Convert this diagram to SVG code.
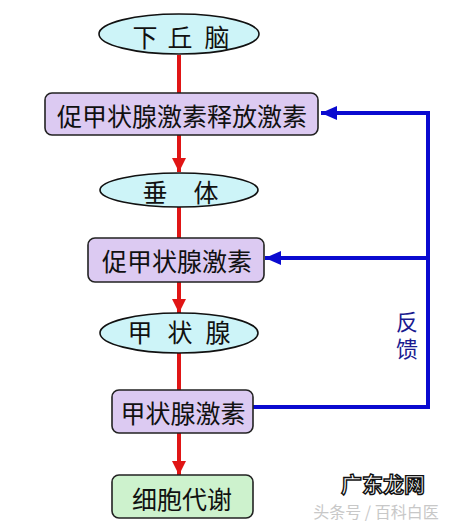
<svg xmlns="http://www.w3.org/2000/svg" width="468" height="526" viewBox="0 0 468 526">
<style>
.ell{fill:#cdf4f8;stroke:#111;stroke-width:1.6}
.box{fill:#dccaf2;stroke:#222;stroke-width:1.6}
.gbox{fill:#cdf2cd;stroke:#222;stroke-width:1.6}
.t{font-family:"Noto Sans CJK SC","Noto Sans CJK TC",sans-serif;font-size:25px;fill:#111;text-anchor:middle}
.red{stroke:#e01515;stroke-width:4;fill:none}
.blue{stroke:#0a0ad0;stroke-width:4;fill:none}
.fb{font-family:"Noto Sans CJK SC",sans-serif;font-size:22px;fill:#1a1a90}
.wm{font-family:"Noto Sans CJK SC",sans-serif;font-size:16px;fill:#c8c8c8;text-anchor:middle}
.wm2{font-family:"Noto Sans CJK SC",sans-serif;font-size:21px;font-weight:bold;fill:#fff;stroke:#111;stroke-width:1.4;text-anchor:middle}
</style>
<defs>
<marker id="ar" markerUnits="userSpaceOnUse" markerWidth="16" markerHeight="16" refX="14" refY="8" orient="auto">
<path d="M0,1 L14,8 L0,15 Z" fill="#e01515"/>
</marker>
<marker id="ab" markerUnits="userSpaceOnUse" markerWidth="18" markerHeight="16" refX="16" refY="8" orient="auto">
<path d="M0,1 L16,8 L0,15 Z" fill="#0a0ad0"/>
</marker>
</defs>
<g id="connectors">
<line class="red" x1="179" y1="55" x2="179" y2="93"/>
<line class="red" x1="179" y1="135" x2="179" y2="172" marker-end="url(#ar)"/>
<line class="red" x1="179" y1="207" x2="179" y2="238"/>
<line class="red" x1="179" y1="282" x2="179" y2="313" marker-end="url(#ar)"/>
<line class="red" x1="179" y1="353" x2="179" y2="390"/>
<line class="red" x1="179" y1="433" x2="179" y2="475" marker-end="url(#ar)"/>
<polyline class="blue" points="253,407 428,407 428,113 321,113" marker-end="url(#ab)"/>
<line class="blue" x1="428" y1="258" x2="265" y2="258" marker-end="url(#ab)"/>
</g>
<g id="n1">
<ellipse class="ell" cx="179" cy="34" rx="80" ry="20"/>
<text class="t" x="145 162 180 198 217" y="47">下 丘 脑</text>
</g>
<g id="n2">
<rect class="box" x="45" y="93" width="273" height="42" rx="7"/>
<text class="t" x="182" y="126">促甲状腺激素释放激素</text>
</g>
<g id="n3">
<ellipse class="ell" cx="179" cy="190" rx="79" ry="17"/>
<text class="t" x="155 180 206" y="202">垂 体</text>
</g>
<g id="n4">
<rect class="box" x="88" y="238" width="176" height="44" rx="7"/>
<text class="t" x="177" y="271">促甲状腺激素</text>
</g>
<g id="n5">
<ellipse class="ell" cx="179" cy="333" rx="79" ry="20"/>
<text class="t" x="140 160 180 199 218" y="342">甲 状 腺</text>
</g>
<g id="n6">
<rect class="box" x="112" y="390" width="141" height="43" rx="7"/>
<text class="t" x="183" y="423">甲状腺激素</text>
</g>
<g id="n7">
<rect class="gbox" x="112" y="475" width="141" height="43" rx="7"/>
<text class="t" x="182" y="509">细胞代谢</text>
</g>
<g id="label">
<text class="fb" x="407" y="311" writing-mode="vertical-rl" letter-spacing="5">反馈</text>
</g>
<text class="wm2" x="383" y="492">广东龙网</text>
<text class="wm" x="376" y="518">头条号 / 百科白医</text>
</svg>
